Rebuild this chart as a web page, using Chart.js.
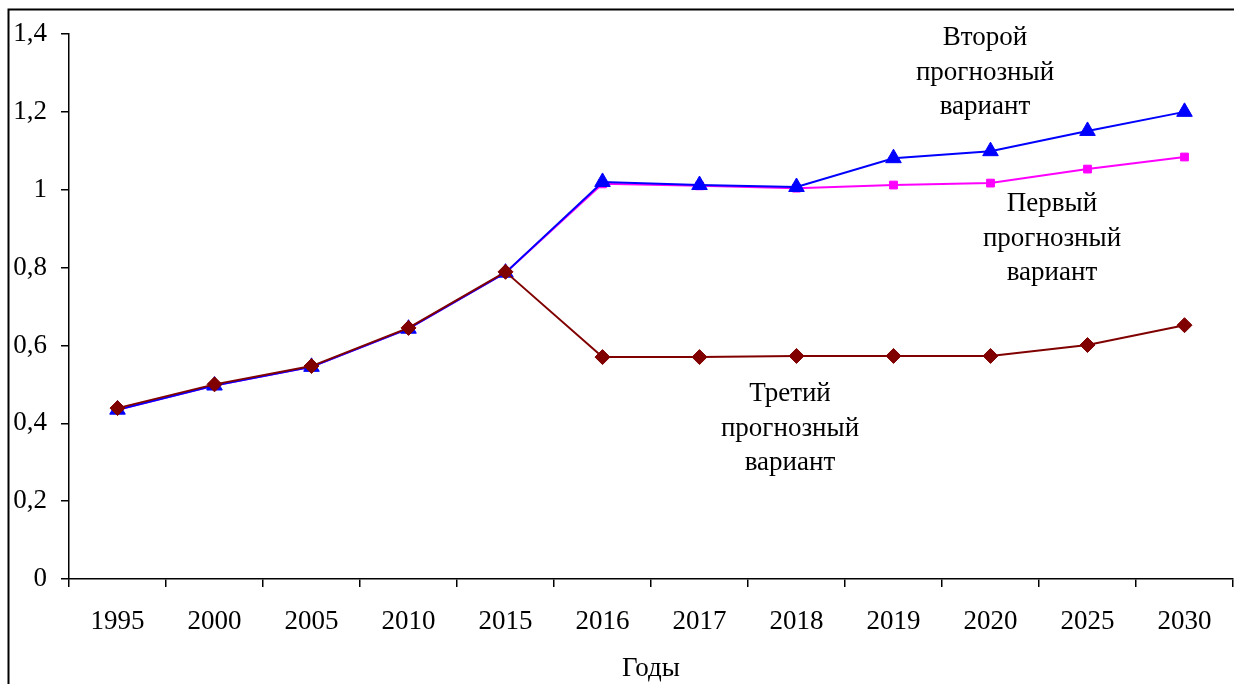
<!DOCTYPE html>
<html><head><meta charset="utf-8">
<script src="https://cdn.jsdelivr.net/npm/chart.js@4"></script>
<style>html,body{margin:0;padding:0;background:#fff;}canvas{display:block;}</style>
</head><body>
<canvas id="c" width="1234" height="684"></canvas>
<script>
const years = ['1995','2000','2005','2010','2015','2016','2017','2018','2019','2020','2025','2030'];
const firstVariant  = [0.435,0.497,0.545,0.643,0.787,1.015,1.010,1.004,1.012,1.017,1.053,1.084];
const secondVariant = [0.435,0.497,0.545,0.643,0.787,1.020,1.012,1.007,1.081,1.099,1.151,1.200];
const thirdVariant  = [0.439,0.500,0.547,0.645,0.789,0.570,0.570,0.573,0.573,0.573,0.601,0.652];
const yTicks = [0,0.2,0.4,0.6,0.8,1,1.2,1.4];
const axisTitle = 'Годы';
const notes = [
  {lines:['Второй','прогнозный','вариант'], x:985, y:38},
  {lines:['Первый','прогнозный','вариант'], x:1052, y:204},
  {lines:['Третий','прогнозный','вариант'], x:790, y:394}
];
const FONT = '"Liberation Serif","Times New Roman",serif';
const FS = 27;

// markers may overflow the plot edge; do not reserve extra layout padding for them
Chart.LineController.prototype.getMaxOverflow = function(){ return 0; };

const framePlugin = {
  id:'frame',
  afterDraw(chart){
    const ctx = chart.ctx;
    ctx.save();
    ctx.strokeStyle = '#000'; ctx.lineWidth = 2;
    ctx.beginPath();
    ctx.moveTo(8.5, 700); ctx.lineTo(8.5, 9.5); ctx.lineTo(1240, 9.5);
    ctx.stroke();
    ctx.fillStyle = '#000';
    ctx.font = FS + 'px ' + FONT;
    ctx.textAlign = 'center'; ctx.textBaseline = 'middle';
    notes.forEach(n => n.lines.forEach((l,i) => ctx.fillText(l, n.x, n.y + i*34.5)));
    ctx.restore();
  }
};

new Chart(document.getElementById('c'), {
  type:'line',
  data:{
    labels: years,
    datasets:[
      {label:'Третий', data:thirdVariant, borderColor:'#800000', backgroundColor:'#800000', borderWidth:2, pointStyle:'rectRot', pointRadius:7.5, pointBorderWidth:1, tension:0, clip:false},
      {label:'Второй', data:secondVariant, borderColor:'#0000FF', backgroundColor:'#0000FF', borderWidth:2, pointStyle:'triangle', pointRadius:9, pointBorderWidth:1, tension:0, clip:false},
      {label:'Первый', data:firstVariant, borderColor:'#FF00FF', backgroundColor:'#FF00FF', borderWidth:2, pointStyle:'rect', pointRadius:5.5, pointBorderWidth:1, tension:0, clip:false}
    ]
  },
  options:{
    responsive:false, animation:false, devicePixelRatio:1,
    layout:{padding:{top:34, right:1, left:0, bottom:0}},
    plugins:{legend:{display:false}, tooltip:{enabled:false}},
    scales:{
      x:{
        offset:true,
        grid:{offset:true, drawOnChartArea:false, drawTicks:true, tickLength:8, color:'#000', lineWidth:1.5},
        border:{color:'#000', width:1.5},
        ticks:{color:'#000', font:{family:FONT, size:FS}, padding:19, maxRotation:0, autoSkip:false},
        title:{display:true, text:axisTitle, color:'#000', font:{family:FONT, size:FS}, padding:{top:0, bottom:-1}},
        afterFit(s){ s.height = 105; s.paddingLeft = 0; s.paddingRight = 0; }
      },
      y:{
        min:0, max:1.4,
        afterBuildTicks(s){ s.ticks = yTicks.map(v=>({value:v})); },
        grid:{drawOnChartArea:false, drawTicks:true, tickLength:8, color:'#000', lineWidth:1.5},
        border:{color:'#000', width:1.5},
        ticks:{color:'#000', font:{family:FONT, size:FS}, padding:14,
          callback:v=>String(Math.round(v*10)/10).replace('.',',')},
        afterFit(s){ s.width = 69; s.paddingTop = 0; s.paddingBottom = 0; }
      }
    }
  },
  plugins:[framePlugin]
});
</script>
</body></html>
